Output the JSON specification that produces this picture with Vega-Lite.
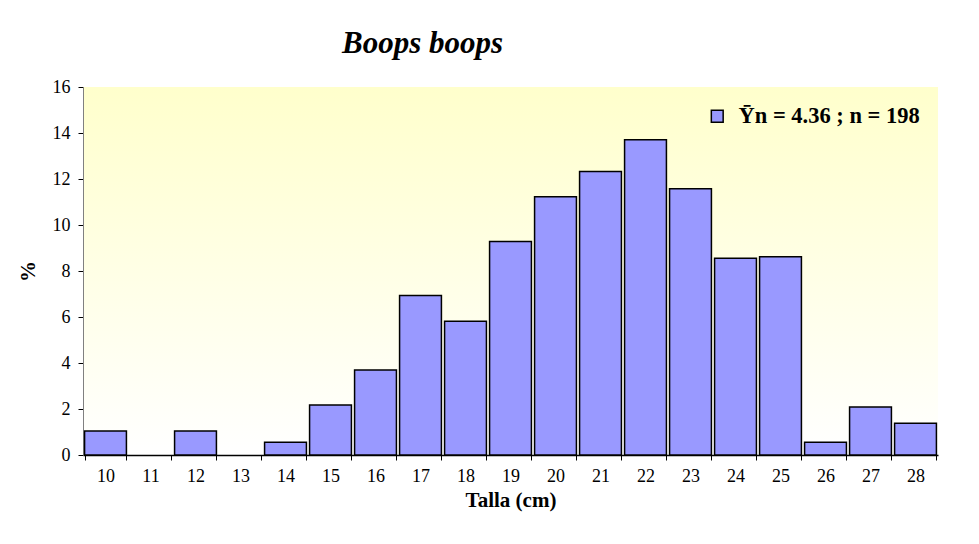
{
  "$schema": "https://vega.github.io/schema/vega-lite/v6.json",
  "width": 855,
  "height": 368,
  "autosize": "none",
  "padding": {"left": 83, "top": 87, "right": 41, "bottom": 89},
  "background": "white",
  "title": {
    "text": "Boops boops",
    "font": "Liberation Serif",
    "fontSize": 31,
    "fontStyle": "italic",
    "fontWeight": "bold",
    "color": "black",
    "anchor": "middle",
    "dx": -88,
    "offset": 18
  },
  "config": {
    "view": {
      "stroke": null,
      "fill": {
        "gradient": "linear",
        "x1": 0, "y1": 0, "x2": 0, "y2": 1,
        "stops": [
          {"offset": 0, "color": "#FFFFCC"},
          {"offset": 1, "color": "#FFFFFF"}
        ]
      }
    },
    "axis": {
      "labelFont": "Liberation Serif",
      "titleFont": "Liberation Serif",
      "labelFontSize": 18,
      "titleFontSize": 21,
      "labelColor": "black",
      "titleColor": "black",
      "tickColor": "black",
      "grid": false
    }
  },
  "data": {
    "values": [
      {"talla": "10", "pct": 1.04, "serie": "Ȳn = 4.36 ; n = 198"},
      {"talla": "11", "pct": 0, "serie": "Ȳn = 4.36 ; n = 198"},
      {"talla": "12", "pct": 1.04, "serie": "Ȳn = 4.36 ; n = 198"},
      {"talla": "13", "pct": 0, "serie": "Ȳn = 4.36 ; n = 198"},
      {"talla": "14", "pct": 0.55, "serie": "Ȳn = 4.36 ; n = 198"},
      {"talla": "15", "pct": 2.17, "serie": "Ȳn = 4.36 ; n = 198"},
      {"talla": "16", "pct": 3.7, "serie": "Ȳn = 4.36 ; n = 198"},
      {"talla": "17", "pct": 6.93, "serie": "Ȳn = 4.36 ; n = 198"},
      {"talla": "18", "pct": 5.81, "serie": "Ȳn = 4.36 ; n = 198"},
      {"talla": "19", "pct": 9.28, "serie": "Ȳn = 4.36 ; n = 198"},
      {"talla": "20", "pct": 11.23, "serie": "Ȳn = 4.36 ; n = 198"},
      {"talla": "21", "pct": 12.33, "serie": "Ȳn = 4.36 ; n = 198"},
      {"talla": "22", "pct": 13.71, "serie": "Ȳn = 4.36 ; n = 198"},
      {"talla": "23", "pct": 11.58, "serie": "Ȳn = 4.36 ; n = 198"},
      {"talla": "24", "pct": 8.55, "serie": "Ȳn = 4.36 ; n = 198"},
      {"talla": "25", "pct": 8.62, "serie": "Ȳn = 4.36 ; n = 198"},
      {"talla": "26", "pct": 0.55, "serie": "Ȳn = 4.36 ; n = 198"},
      {"talla": "27", "pct": 2.09, "serie": "Ȳn = 4.36 ; n = 198"},
      {"talla": "28", "pct": 1.38, "serie": "Ȳn = 4.36 ; n = 198"}
    ]
  },
  "transform": [{"filter": "datum.pct > 0"}],
  "mark": {"type": "bar", "stroke": "black", "strokeWidth": 1.5},
  "encoding": {
    "x": {
      "field": "talla",
      "type": "ordinal",
      "sort": null,
      "scale": {
        "domain": ["10","11","12","13","14","15","16","17","18","19","20","21","22","23","24","25","26","27","28"],
        "paddingInner": 0.07,
        "paddingOuter": 0.035
      },
      "axis": {
        "title": "Talla (cm)",
        "titleFontWeight": "bold",
        "titlePadding": 4,
        "labelAngle": 0,
        "labelPadding": 7,
        "tickBand": "extent",
        "tickSize": 5,
        "domainColor": "black",
        "domainWidth": 1.5
      }
    },
    "y": {
      "field": "pct",
      "type": "quantitative",
      "scale": {"domain": [0, 16]},
      "axis": {
        "title": "%",
        "titleFontWeight": "bold",
        "titlePadding": 14,
        "values": [0, 2, 4, 6, 8, 10, 12, 14, 16],
        "tickSize": 5,
        "labelPadding": 8,
        "domainColor": "#808080"
      }
    },
    "color": {
      "field": "serie",
      "type": "nominal",
      "scale": {"range": ["#9999FF"]},
      "legend": {
        "title": null,
        "orient": "top-right",
        "offset": 18,
        "labelFont": "Liberation Serif",
        "labelFontSize": 22.5,
        "labelFontWeight": "bold",
        "labelColor": "black",
        "labelOffset": 10,
        "symbolType": "square",
        "symbolSize": 140,
        "symbolStrokeColor": "black",
        "symbolStrokeWidth": 1.5,
        "labelLimit": 400
      }
    }
  }
}
